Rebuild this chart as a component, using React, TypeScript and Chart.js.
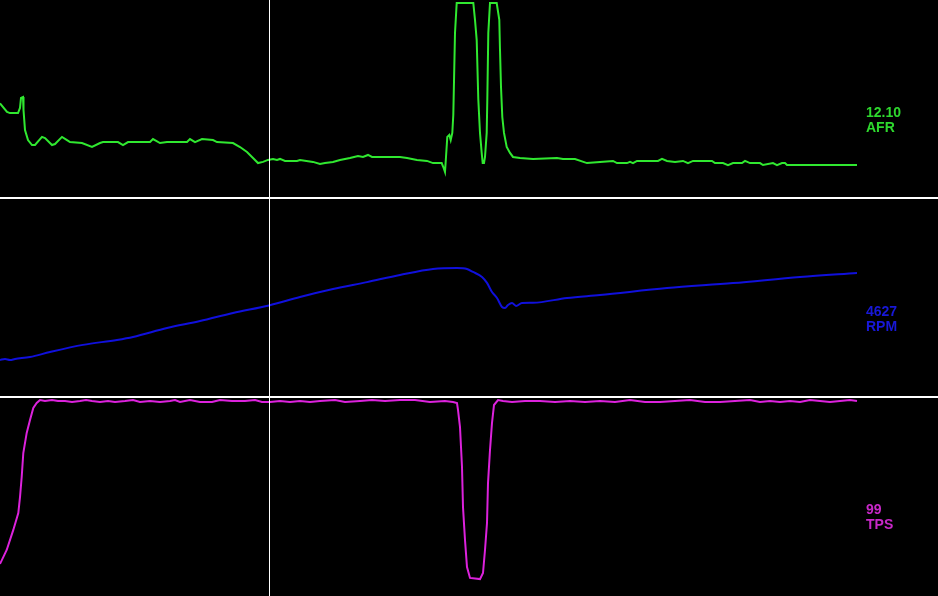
import React, { useEffect, useRef } from 'react';
import { Chart, registerables } from 'chart.js';

Chart.register(...registerables);

// ---- Data (log samples; x = sample index) ----
const afrTime = [0, 7, 10, 18, 20, 21, 23, 23.5, 25, 28, 32, 35, 42, 45, 52, 55, 62, 67, 70, 82, 92, 100, 103, 118, 123, 128, 150, 153, 160, 167, 187, 190, 195, 202, 213, 217, 233, 240, 247, 253, 258, 263, 268, 273, 277, 280, 285, 297, 300, 313, 320, 325, 333, 340, 350, 358, 363, 368, 372, 400, 407, 417, 427, 433, 441.7, 443.3, 445, 446, 447.3, 449.3, 450.7, 452.3, 453.3, 454.3, 455, 456.7, 473.3, 475, 476.7, 478.3, 480, 481.7, 482.7, 484, 485, 486.7, 487.3, 488.3, 490, 496.7, 499.3, 500, 501, 502.3, 504, 506.7, 510, 513, 520, 533, 557, 563, 575, 587, 600, 613, 617, 627, 630, 633, 637, 658, 662, 667, 675, 683, 688, 693, 712, 715, 723, 728, 733, 742, 745, 750, 760, 763, 773, 777, 782, 785, 787, 857];
const afrValues = [15.76, 15.24, 15.17, 15.17, 15.48, 16.08, 16.14, 15.36, 14.15, 13.54, 13.24, 13.24, 13.73, 13.66, 13.24, 13.3, 13.73, 13.54, 13.42, 13.36, 13.12, 13.36, 13.42, 13.42, 13.24, 13.42, 13.42, 13.6, 13.36, 13.42, 13.42, 13.6, 13.42, 13.6, 13.54, 13.42, 13.36, 13.12, 12.82, 12.46, 12.15, 12.22, 12.34, 12.4, 12.34, 12.4, 12.28, 12.28, 12.34, 12.22, 12.09, 12.15, 12.22, 12.34, 12.46, 12.58, 12.52, 12.64, 12.52, 12.52, 12.46, 12.34, 12.28, 12.15, 12.15, 11.91, 11.61, 12.52, 13.73, 13.85, 13.54, 13.97, 15.05, 17.95, 20.01, 21.82, 21.82, 20.8, 19.58, 16.0, 13.97, 12.76, 12.15, 12.15, 12.52, 13.97, 15.96, 20.01, 21.82, 21.82, 20.8, 18.98, 16.75, 14.93, 13.97, 13.12, 12.76, 12.52, 12.46, 12.4, 12.46, 12.4, 12.4, 12.15, 12.22, 12.28, 12.15, 12.15, 12.22, 12.15, 12.28, 12.28, 12.4, 12.28, 12.22, 12.28, 12.15, 12.28, 12.28, 12.15, 12.15, 12.03, 12.15, 12.15, 12.28, 12.15, 12.15, 12.03, 12.15, 12.03, 12.15, 12.15, 12.03, 12.03];

const rpmTime = [0, 5, 10, 15, 30, 50, 83, 117, 133, 167, 200, 233, 269, 300, 333, 367, 400, 433, 457, 467, 473, 482, 487, 492, 497, 502, 505, 508, 512, 516, 522, 533, 567, 600, 667, 733, 800, 857];
const rpmValues = [1880, 1930, 1880, 1930, 2030, 2280, 2640, 2890, 3040, 3490, 3840, 4250, 4627, 5050, 5450, 5800, 6160, 6460, 6510, 6460, 6310, 6060, 5760, 5300, 5000, 4550, 4500, 4650, 4750, 4600, 4750, 4760, 5000, 5150, 5500, 5750, 6060, 6260];

const tpsTime = [0, 6.7, 13.3, 18.3, 20, 21.7, 23.3, 26.7, 30, 33.3, 36.7, 40, 45, 52, 58, 65, 72, 80, 86, 92, 100, 108, 115, 125, 133, 140, 150, 160, 170, 175, 180, 190, 200, 212, 220, 232, 245, 255, 262, 270, 280, 290, 300, 310, 320, 335, 345, 360, 372, 385, 400, 415, 430, 445, 453, 457, 458, 460, 462, 463, 465, 467, 470, 480, 483, 485, 487, 488, 490, 492, 494, 498, 503, 512, 525, 540, 555, 570, 585, 600, 615, 630, 645, 660, 675, 690, 705, 720, 735, 750, 760, 770, 780, 790, 800, 810, 820, 830, 840, 850, 857];
const tpsValues = [16.3, 23.4, 33.6, 42.2, 50.3, 60.5, 72.7, 82.9, 89.5, 95.6, 98.1, 99.6, 99.1, 99.6, 99.1, 99.1, 98.6, 99.1, 99.6, 99.1, 98.6, 99.1, 98.6, 99.1, 99.6, 98.6, 99.1, 98.6, 99.1, 99.6, 98.6, 99.6, 98.6, 98.6, 99.6, 99.1, 99.1, 99.6, 98.6, 98.6, 99.1, 98.6, 99.1, 98.6, 99.1, 99.6, 98.6, 99.1, 99.6, 99.1, 99.6, 99.6, 98.6, 99.1, 98.6, 98.1, 94.6, 85.9, 65.6, 45.2, 28.5, 14.7, 9.2, 8.6, 11.7, 23.4, 37.1, 57.4, 74.2, 88.0, 97.1, 99.6, 99.1, 98.6, 99.1, 99.1, 98.6, 99.1, 98.6, 99.1, 98.6, 99.6, 98.6, 98.6, 99.1, 99.6, 98.6, 98.6, 99.1, 99.6, 98.6, 99.1, 98.6, 99.1, 98.6, 99.6, 99.1, 98.6, 99.1, 99.6, 99.1];

const cursorTime = 269;
const channelNames = ['AFR', 'RPM', 'TPS'];
const cursorReadouts = ['12.10', '4627', '99'];
const axisIds = ['yAFR', 'yRPM', 'yTPS'];
const lineColors = ['#30e830', '#1010dc', '#dc22dc'];
const textColors = ['#2ed82e', '#1818d8', '#c828c8'];

function toPoints(t: number[], v: number[]) {
  return t.map((x, i) => ({ x, y: v[i] }));
}

const panelPlugin = {
  id: 'panels',
  beforeDraw(chart: any) {
    const { ctx } = chart;
    ctx.save();
    ctx.fillStyle = '#000';
    ctx.fillRect(0, 0, chart.width, chart.height);
    ctx.restore();
  },
  afterDatasetsDraw(chart: any) {
    const { ctx, chartArea, scales } = chart;
    ctx.save();
    ctx.fillStyle = '#ffffff';
    for (const id of ['yRPM', 'yTPS']) {
      const y = Math.floor(scales[id].top) - 1;
      ctx.fillRect(0, y, chart.width, 2);
    }
    const cx = Math.round(scales.x.getPixelForValue(cursorTime));
    ctx.fillRect(cx, 0, 1, chart.height);
    ctx.font = 'bold 14px "Liberation Sans", Arial, sans-serif';
    ctx.textBaseline = 'alphabetic';
    ctx.textAlign = 'left';
    axisIds.forEach((id, i) => {
      const s = scales[id];
      ctx.fillStyle = textColors[i];
      ctx.fillText(cursorReadouts[i], chartArea.right - 72, s.top + 117);
      ctx.fillText(channelNames[i], chartArea.right - 72, s.top + 132);
    });
    ctx.restore();
  },
};

export default function App() {
  const ref = useRef<HTMLCanvasElement | null>(null);
  useEffect(() => {
    document.body.style.margin = '0';
    document.body.style.background = '#000';
    const canvas = ref.current;
    if (!canvas) return;
    const ds = (label: string, t: number[], v: number[], axis: string, color: string, smooth: boolean) => ({
      label,
      data: toPoints(t, v),
      yAxisID: axis,
      borderColor: color,
      backgroundColor: color,
      borderWidth: 2,
      pointRadius: 0,
      tension: 0,
      cubicInterpolationMode: smooth ? 'monotone' : 'default',
      fill: false,
    });
    const hidden = { display: false, stack: 'panels', stackWeight: 1, position: 'left' as const };
    const chart = new Chart(canvas, {
      type: 'line',
      data: {
        datasets: [
          ds('AFR', afrTime, afrValues, 'yAFR', lineColors[0], false),
          ds('RPM', rpmTime, rpmValues, 'yRPM', lineColors[1], true),
          ds('TPS', tpsTime, tpsValues, 'yTPS', lineColors[2], false),
        ],
      },
      options: {
        animation: false,
        responsive: false,
        devicePixelRatio: 1,
        layout: { padding: 0 },
        plugins: { legend: { display: false }, tooltip: { enabled: false } },
        scales: {
          x: { type: 'linear', min: 0, max: 938, display: false },
          yTPS: { ...hidden, type: 'linear', min: 0, max: 101 },
          yRPM: { ...hidden, type: 'linear', min: 0, max: 10000 },
          yAFR: { ...hidden, type: 'linear', min: 10, max: 22 },
        },
      } as any,
      plugins: [panelPlugin],
    });
    return () => chart.destroy();
  }, []);
  return (
    <div style={{ width: 938, height: 596, background: '#000' }}>
      <canvas ref={ref} width={938} height={596} style={{ display: 'block' }} />
    </div>
  );
}
